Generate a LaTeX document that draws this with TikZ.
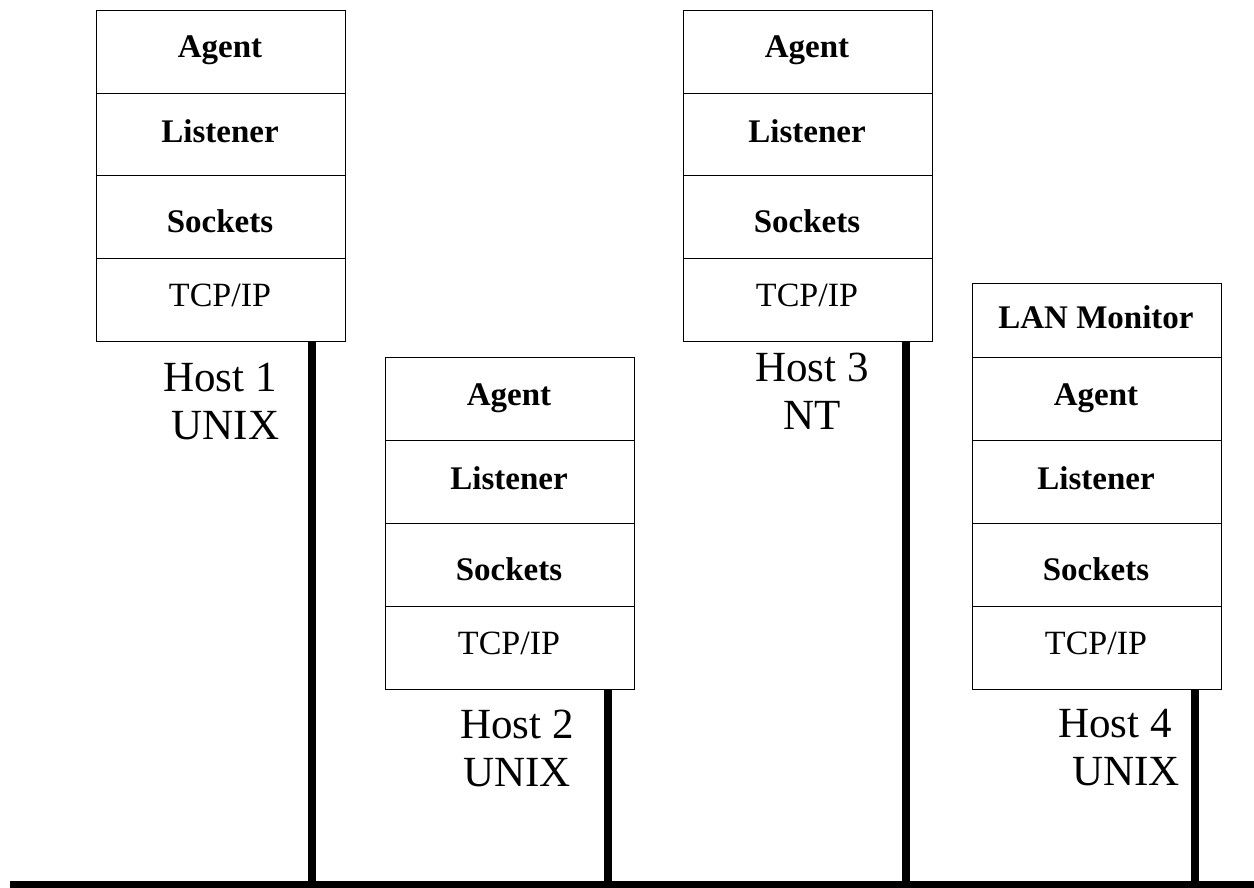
\documentclass[tikz,border=0pt]{standalone}
\usepackage{fontspec}
\setmainfont{Liberation Serif}
\begin{document}
\begin{tikzpicture}[x=1pt,y=-1pt,
  layer/.style={draw=black, line width=1.1pt, minimum width=249pt, minimum height=83pt, inner sep=0pt, anchor=north west, fill=white},
  lbl/.style={font=\fontsize{33}{38}\selectfont\bfseries},
  lblr/.style={font=\fontsize{34}{38}\selectfont},
  hostlbl/.style={font=\fontsize{43}{48}\selectfont, align=center, inner sep=0pt},
  wire/.style={line width=8pt},
  bus/.style={line width=7pt}]
\useasboundingbox (0,0) rectangle (1254,888);
% Host 1
\node[layer] (a1) at (96,10) {};
\node[layer] (l1) at (96,93) {};
\node[layer] (s1) at (96,175) {};
\node[layer] (t1) at (96,258) {};
\node[lbl] at (220,50) {Agent};
\node[lbl] at (220,131) {Listener};
\node[lbl] at (220,221) {Sockets};
\node[lblr] at (220,295) {TCP/IP};
\node[hostlbl] (h1) at (220,402) {Host 1\\\ UNIX};
% Host 2
\node[layer] (a2) at (385,357) {};
\node[layer] (l2) at (385,440) {};
\node[layer] (s2) at (385,523) {};
\node[layer] (t2) at (385,606) {};
\node[lbl] at (509,398) {Agent};
\node[lbl] at (509,478) {Listener};
\node[lbl] at (509,569) {Sockets};
\node[lblr] at (509,643) {TCP/IP};
\node[hostlbl] (h2) at (517,748) {Host 2\\UNIX};
% Host 3
\node[layer] (a3) at (683,10) {};
\node[layer] (l3) at (683,93) {};
\node[layer] (s3) at (683,175) {};
\node[layer] (t3) at (683,258) {};
\node[lbl] at (807,50) {Agent};
\node[lbl] at (807,131) {Listener};
\node[lbl] at (807,221) {Sockets};
\node[lblr] at (807,295) {TCP/IP};
\node[hostlbl] (h3) at (812,391) {Host 3\\NT};
% Host 4
\node[layer, minimum height=74pt] (m4) at (972,283) {};
\node[layer] (a4) at (972,357) {};
\node[layer] (l4) at (972,440) {};
\node[layer] (s4) at (972,523) {};
\node[layer] (t4) at (972,606) {};
\node[lbl] at (1096,317) {LAN Monitor};
\node[lbl] at (1096,398) {Agent};
\node[lbl] at (1096,478) {Listener};
\node[lbl] at (1096,569) {Sockets};
\node[lblr] at (1096,643) {TCP/IP};
\node[hostlbl] (h4) at (1115,748) {Host 4\\\ \ UNIX};
% connectors
\coordinate (p1) at (312,341);
\coordinate (p2) at (608,689);
\coordinate (p3) at (906,341);
\coordinate (p4) at (1195,689);
\coordinate (q1) at (312,884);
\coordinate (q2) at (608,884);
\coordinate (q3) at (906,884);
\coordinate (q4) at (1195,884);
\coordinate (busL) at (10,884);
\coordinate (busR) at (1254,884);
\draw[wire] (p1) -- (q1);
\draw[wire] (p2) -- (q2);
\draw[wire] (p3) -- (q3);
\draw[wire] (p4) -- (q4);
\draw[bus] (busL) -- (busR);
\end{tikzpicture}
\end{document}
